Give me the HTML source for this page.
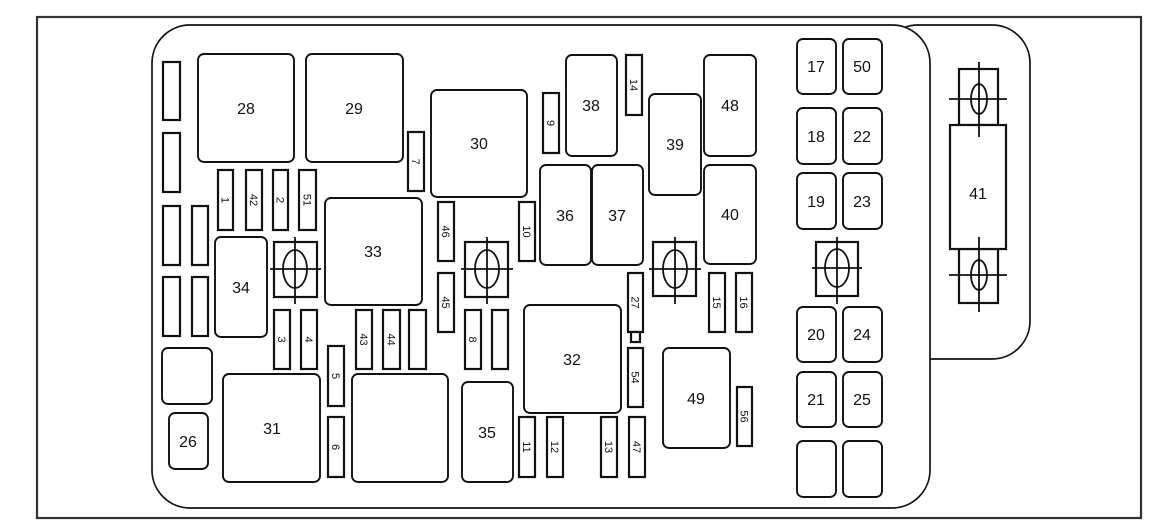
<!DOCTYPE html>
<html><head><meta charset="utf-8"><style>
html,body{margin:0;padding:0;background:#fff;}
svg{display:block;}
text{font-family:"Liberation Sans",Arial,sans-serif;fill:#111;}
.b{fill:#fff;stroke:#111;stroke-width:1.9;}
.f{fill:#fff;stroke:#111;stroke-width:2.2;}
.l{stroke:#111;stroke-width:1.8;fill:none;}
.bl{font-size:16px;}
.fl{font-size:11px;}
</style></head><body>
<svg width="1156" height="523" viewBox="0 0 1156 523" xmlns="http://www.w3.org/2000/svg">
<rect x="0" y="0" width="1156" height="523" fill="#fff"/>
<rect x="37" y="17" width="1104" height="501" fill="none" stroke="#333" stroke-width="2.2"/>
<!-- right housing -->
<rect x="880" y="25" width="150" height="334" rx="38" ry="38" fill="#fff" stroke="#111" stroke-width="1.7"/>
<!-- main housing -->
<rect x="152" y="25" width="778" height="483" rx="38" ry="38" fill="#fff" stroke="#111" stroke-width="1.7"/>

<!-- left slots -->
<rect class="f" x="163" y="62" width="17" height="58"/>
<rect class="f" x="163" y="133" width="17" height="59"/>
<rect class="f" x="163" y="206" width="17" height="59"/>
<rect class="f" x="192" y="206" width="16" height="59"/>
<rect class="f" x="163" y="277" width="17" height="59"/>
<rect class="f" x="192" y="277" width="16" height="59"/>

<!-- boxes -->
<g>
<rect class="b" x="198" y="54" width="96" height="108" rx="6"/><text class="bl" x="246" y="114" text-anchor="middle">28</text>
<rect class="b" x="306" y="54" width="97" height="108" rx="6"/><text class="bl" x="354" y="114" text-anchor="middle">29</text>
<rect class="b" x="431" y="90" width="96" height="107" rx="6"/><text class="bl" x="479" y="149" text-anchor="middle">30</text>
<rect class="b" x="325" y="198" width="97" height="107" rx="6"/><text class="bl" x="373" y="257" text-anchor="middle">33</text>
<rect class="b" x="215" y="237" width="52" height="100" rx="6"/><text class="bl" x="241" y="293" text-anchor="middle">34</text>
<rect class="b" x="162" y="348" width="50" height="56" rx="6"/>
<rect class="b" x="169" y="413" width="39" height="56" rx="6"/><text class="bl" x="188" y="447" text-anchor="middle">26</text>
<rect class="b" x="223" y="374" width="97" height="108" rx="6"/><text class="bl" x="272" y="434" text-anchor="middle">31</text>
<rect class="b" x="352" y="374" width="96" height="108" rx="6"/>
<rect class="b" x="462" y="382" width="51" height="100" rx="6"/><text class="bl" x="487" y="438" text-anchor="middle">35</text>
<rect class="b" x="524" y="305" width="97" height="108" rx="6"/><text class="bl" x="572" y="365" text-anchor="middle">32</text>
<rect class="b" x="540" y="165" width="51" height="100" rx="6"/><text class="bl" x="565" y="221" text-anchor="middle">36</text>
<rect class="b" x="592" y="165" width="51" height="100" rx="6"/><text class="bl" x="617" y="221" text-anchor="middle">37</text>
<rect class="b" x="566" y="55" width="51" height="101" rx="6"/><text class="bl" x="591" y="111" text-anchor="middle">38</text>
<rect class="b" x="649" y="94" width="52" height="101" rx="6"/><text class="bl" x="675" y="150" text-anchor="middle">39</text>
<rect class="b" x="704" y="55" width="52" height="101" rx="6"/><text class="bl" x="730" y="111" text-anchor="middle">48</text>
<rect class="b" x="704" y="165" width="52" height="99" rx="6"/><text class="bl" x="730" y="220" text-anchor="middle">40</text>
<rect class="b" x="663" y="348" width="67" height="100" rx="6"/><text class="bl" x="696" y="404" text-anchor="middle">49</text>

<rect class="b" x="797" y="39" width="39" height="55" rx="6"/><text class="bl" x="816" y="72" text-anchor="middle">17</text>
<rect class="b" x="843" y="39" width="39" height="55" rx="6"/><text class="bl" x="862" y="72" text-anchor="middle">50</text>
<rect class="b" x="797" y="108" width="39" height="56" rx="6"/><text class="bl" x="816" y="142" text-anchor="middle">18</text>
<rect class="b" x="843" y="108" width="39" height="56" rx="6"/><text class="bl" x="862" y="142" text-anchor="middle">22</text>
<rect class="b" x="797" y="173" width="39" height="56" rx="6"/><text class="bl" x="816" y="207" text-anchor="middle">19</text>
<rect class="b" x="843" y="173" width="39" height="56" rx="6"/><text class="bl" x="862" y="207" text-anchor="middle">23</text>
<rect class="b" x="797" y="307" width="39" height="55" rx="6"/><text class="bl" x="816" y="340" text-anchor="middle">20</text>
<rect class="b" x="843" y="307" width="39" height="55" rx="6"/><text class="bl" x="862" y="340" text-anchor="middle">24</text>
<rect class="b" x="797" y="372" width="39" height="55" rx="6"/><text class="bl" x="816" y="405" text-anchor="middle">21</text>
<rect class="b" x="843" y="372" width="39" height="55" rx="6"/><text class="bl" x="862" y="405" text-anchor="middle">25</text>
<rect class="b" x="797" y="441" width="39" height="56" rx="6"/>
<rect class="b" x="843" y="441" width="39" height="56" rx="6"/>
</g>

<!-- fuses -->
<g>
<rect class="f" x="408" y="132" width="16" height="59"/><text class="fl" transform="rotate(90 416 161.5)" x="416" y="165.5" text-anchor="middle">7</text>
<rect class="f" x="218" y="170" width="15" height="60"/><text class="fl" transform="rotate(90 225.5 200)" x="225.5" y="204" text-anchor="middle">1</text>
<rect class="f" x="246" y="170" width="16" height="60"/><text class="fl" transform="rotate(90 254 200)" x="254" y="204" text-anchor="middle">42</text>
<rect class="f" x="273" y="170" width="15" height="60"/><text class="fl" transform="rotate(90 280.5 200)" x="280.5" y="204" text-anchor="middle">2</text>
<rect class="f" x="299" y="170" width="17" height="60"/><text class="fl" transform="rotate(90 307.5 200)" x="307.5" y="204" text-anchor="middle">51</text>
<rect class="f" x="274" y="310" width="16" height="59"/><text class="fl" transform="rotate(90 282 339.5)" x="282" y="343.5" text-anchor="middle">3</text>
<rect class="f" x="301" y="310" width="16" height="59"/><text class="fl" transform="rotate(90 309 339.5)" x="309" y="343.5" text-anchor="middle">4</text>
<rect class="f" x="356" y="310" width="16" height="59"/><text class="fl" transform="rotate(90 364 339.5)" x="364" y="343.5" text-anchor="middle">43</text>
<rect class="f" x="383" y="310" width="17" height="59"/><text class="fl" transform="rotate(90 391.5 339.5)" x="391.5" y="343.5" text-anchor="middle">44</text>
<rect class="f" x="409" y="310" width="17" height="59"/>
<rect class="f" x="328" y="346" width="16" height="60"/><text class="fl" transform="rotate(90 336 376)" x="336" y="380" text-anchor="middle">5</text>
<rect class="f" x="328" y="417" width="16" height="60"/><text class="fl" transform="rotate(90 336 447)" x="336" y="451" text-anchor="middle">6</text>
<rect class="f" x="438" y="202" width="16" height="59"/><text class="fl" transform="rotate(90 446 231.5)" x="446" y="235.5" text-anchor="middle">46</text>
<rect class="f" x="438" y="273" width="16" height="59"/><text class="fl" transform="rotate(90 446 302.5)" x="446" y="306.5" text-anchor="middle">45</text>
<rect class="f" x="519" y="202" width="16" height="59"/><text class="fl" transform="rotate(90 527 231.5)" x="527" y="235.5" text-anchor="middle">10</text>
<rect class="f" x="465" y="310" width="16" height="59"/><text class="fl" transform="rotate(90 473 339.5)" x="473" y="343.5" text-anchor="middle">8</text>
<rect class="f" x="492" y="310" width="16" height="59"/>
<rect class="f" x="543" y="93" width="16" height="60"/><text class="fl" transform="rotate(90 551 123)" x="551" y="127" text-anchor="middle">9</text>
<rect class="f" x="626" y="55" width="16" height="60"/><text class="fl" transform="rotate(90 634 85)" x="634" y="89" text-anchor="middle">14</text>
<rect class="f" x="628" y="273" width="15" height="59"/><text class="fl" transform="rotate(90 635.5 302.5)" x="635.5" y="306.5" text-anchor="middle">27</text>
<rect class="f" x="631" y="332" width="9" height="10"/>
<rect class="f" x="709" y="273" width="16" height="59"/><text class="fl" transform="rotate(90 717 302.5)" x="717" y="306.5" text-anchor="middle">15</text>
<rect class="f" x="736" y="273" width="16" height="59"/><text class="fl" transform="rotate(90 744 302.5)" x="744" y="306.5" text-anchor="middle">16</text>
<rect class="f" x="628" y="348" width="15" height="59"/><text class="fl" transform="rotate(90 635.5 377.5)" x="635.5" y="381.5" text-anchor="middle">54</text>
<rect class="f" x="519" y="417" width="16" height="60"/><text class="fl" transform="rotate(90 527 447)" x="527" y="451" text-anchor="middle">11</text>
<rect class="f" x="547" y="417" width="16" height="60"/><text class="fl" transform="rotate(90 555 447)" x="555" y="451" text-anchor="middle">12</text>
<rect class="f" x="601" y="417" width="16" height="60"/><text class="fl" transform="rotate(90 609 447)" x="609" y="451" text-anchor="middle">13</text>
<rect class="f" x="629" y="417" width="16" height="60"/><text class="fl" transform="rotate(90 637 447)" x="637" y="451" text-anchor="middle">47</text>
<rect class="f" x="737" y="387" width="15" height="59"/><text class="fl" transform="rotate(90 744.5 416.5)" x="744.5" y="420.5" text-anchor="middle">56</text>
</g>

<!-- brackets -->
<g>
<rect class="f" x="274" y="242" width="43" height="55"/>
<ellipse class="l" cx="295" cy="269" rx="12" ry="19"/>
<line class="l" x1="270" y1="269" x2="321" y2="269"/><line class="l" x1="295" y1="237" x2="295" y2="304"/>

<rect class="f" x="465" y="242" width="43" height="55"/>
<ellipse class="l" cx="487" cy="269" rx="12" ry="19"/>
<line class="l" x1="461" y1="269" x2="513" y2="269"/><line class="l" x1="487" y1="237" x2="487" y2="304"/>

<rect class="f" x="653" y="242" width="43" height="54"/>
<ellipse class="l" cx="675" cy="269" rx="12" ry="19"/>
<line class="l" x1="649" y1="269" x2="701" y2="269"/><line class="l" x1="675" y1="237" x2="675" y2="304"/>

<rect class="f" x="816" y="242" width="42" height="54"/>
<ellipse class="l" cx="837" cy="268" rx="12" ry="19"/>
<line class="l" x1="812" y1="268" x2="862" y2="268"/><line class="l" x1="837" y1="237" x2="837" y2="304"/>

<rect class="f" x="959" y="69" width="39" height="56"/>
<rect class="f" x="959" y="249" width="39" height="54"/>
<rect class="f" x="950" y="125" width="56" height="124"/>
<text class="bl" x="978" y="199" text-anchor="middle">41</text>
<ellipse class="l" cx="979" cy="99" rx="8" ry="15"/>
<line class="l" x1="949" y1="99" x2="1007" y2="99"/><line class="l" x1="979" y1="62" x2="979" y2="137"/>
<ellipse class="l" cx="979" cy="275" rx="8" ry="15"/>
<line class="l" x1="949" y1="275" x2="1007" y2="275"/><line class="l" x1="979" y1="237" x2="979" y2="312"/>
</g>
</svg>
</body></html>
